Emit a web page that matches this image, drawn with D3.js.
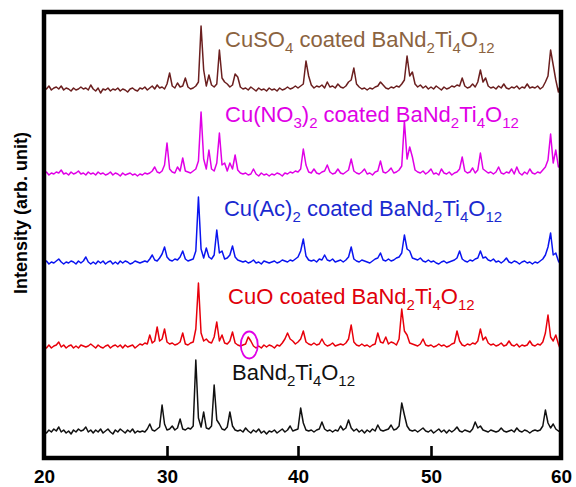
<!DOCTYPE html>
<html>
<head>
<meta charset="utf-8">
<script src="https://cdn.jsdelivr.net/npm/d3@7"></script>
<style>
  html, body { margin: 0; padding: 0; background: #fff; }
  svg { display: block; font-family: "Liberation Sans", Arial, sans-serif; }
</style>
</head>
<body>
<div class="chart"></div>
<script>
// 2θ sampling grid: 20° to 60°, every 0.2°
const twoTheta = d3.range(200, 601, 2).map(d => d / 10);
const xTicks = [20, 30, 40, 50, 60];

// intensities above each pattern's own baseline (arb. unit), one row = 2°
const bareBNT = [
  1, -1, 2, 0, 3, 1, 5, 0, 2, -1,
  1, -2, 2, 0, 3, 1, 2, 5, 0, 2,
  -1, 2, 0, 3, -1, 1, 3, 0, -2, 2,
  0, 3, 1, -1, 2, 0, 3, -1, 1, 0,
  1, 0, 3, 8, 2, 1, 3, 5, 27, 8,
  2, 3, 6, 2, 4, 13, 3, 2, 4, 3,
  6, 72, 14, 5, 20, 4, 3, 6, 47, 12,
  8, 3, 2, 5, 20, 6, 2, 1, 2, 0,
  4, 1, -1, 2, 0, 3, -1, 1, -2, 1,
  0, 2, -1, 1, 3, 0, 2, 6, 1, 2,
  3, 24, 9, 2, 1, 2, 0, 2, 3, 10,
  3, 1, 2, 0, 2, 1, 6, 2, 4, 12,
  4, 1, 3, 0, 2, -1, 2, 0, 3, 1,
  7, 2, 1, 2, 3, 7, 2, 3, 6, 29,
  17, 6, 2, 1, 2, 0, 2, 4, 1, 0,
  2, -1, 1, 3, 0, 2, -1, 2, 0, 2,
  5, 1, 0, 2, 1, 0, 3, 10, 4, 6,
  2, 1, 0, 2, 1, 0, 1, 4, 1, 0,
  1, 2, 0, 4, 1, 0, 2, 1, -1, 1,
  2, 1, 2, 6, 22, 9, 4, 8, 3, 1,
  0
];
const cuoCoated = [
  1, -1, 2, -1, 1, 2, 5, 0, 2, -1,
  1, 2, -1, 1, -1, 2, 1, 0, 1, 3,
  1, -1, 2, 0, -1, 1, 2, -1, 1, 2,
  0, 2, -1, 2, 0, 1, 2, -1, 1, 3,
  2, 4, 3, 12, 4, 6, 20, 6, 8, 18,
  5, 3, 4, 2, 3, 5, 14, 3, 2, 4,
  5, 18, 64, 14, 6, 8, 5, 4, 10, 25,
  6, 12, 4, 3, 6, 15, 4, 2, 1, 2,
  3, 10, 6, 1, -1, 1, -1, 2, 0, 2,
  1, -1, 2, 1, 4, 8, 14, 8, 6, 3,
  5, 8, 16, 5, 3, 2, 4, 2, 3, 8,
  3, 1, 2, 4, 1, 2, 3, 2, 4, 8,
  22, 5, 2, 1, 3, 1, 2, 0, 2, 3,
  14, 5, 4, 10, 3, 5, 4, 2, 8, 38,
  16, 12, 4, 3, 2, 1, 3, 8, 2, 1,
  2, 0, 1, 3, 1, 2, 0, 1, 3, 4,
  16, 6, 2, 1, 3, 2, 4, 3, 6, 18,
  7, 10, 4, 2, 3, 1, 2, 4, 1, 2,
  6, 2, 1, 3, 0, 2, 1, 2, 6, 2,
  1, 3, 2, 5, 14, 32, 10, 6, 12, 3,
  -4
];
const cuAcCoated = [
  0, 2, -1, 1, 0, 2, 4, 1, -1, 1,
  0, 2, 1, -1, 2, 0, 2, 6, 1, -1,
  1, -1, 2, 0, 2, -1, 1, 2, -1, 1,
  -1, 2, 0, 2, 1, -1, 0, 2, 1, 0,
  1, 2, 1, 4, 8, 3, 2, 5, 9, 16,
  6, 3, 2, 4, 3, 6, 12, 4, 2, 3,
  4, 12, 66, 14, 5, 15, 6, 4, 8, 33,
  10, 12, 4, 5, 8, 17, 6, 3, 2, 1,
  2, 0, 1, 3, 0, 1, -1, 2, 1, 0,
  1, 2, 0, 1, 3, 2, 1, 3, 2, 4,
  6, 12, 24, 7, 3, 2, 3, 1, 4, 3,
  8, 3, 2, 4, 1, 2, 3, 1, 3, 6,
  16, 4, 2, 1, 3, 2, 1, 0, 2, 4,
  5, 10, 3, 2, 4, 2, 3, 5, 6, 10,
  28, 14, 12, 5, 4, 3, 5, 2, 1, 3,
  1, 2, 0, -1, 1, 2, 0, 1, 2, 3,
  5, 12, 4, 2, 1, 3, 2, 4, 5, 12,
  5, 6, 3, 2, 4, 1, 2, 0, 2, 5,
  1, 0, 2, 1, -1, 1, 2, 0, 1, -1,
  1, 0, 2, 4, 8, 16, 30, 8, 10, 2,
  -2
];
const cuNO3Coated = [
  1, 3, 0, 2, 1, 3, 2, 5, 1, 2,
  0, 3, 1, 2, 4, 1, 2, 0, 3, 1,
  2, 0, 3, 1, 2, 0, 1, 3, 0, 2,
  1, -1, 2, 0, 1, 2, 0, 1, -1, 1,
  0, 2, 1, 2, 4, 8, 3, 2, 4, 10,
  32, 6, 3, 2, 8, 4, 17, 4, 3, 2,
  4, 6, 14, 63, 16, 6, 25, 6, 4, 12,
  42, 10, 12, 4, 12, 6, 20, 5, 2, 1,
  2, 0, 1, 6, 1, -1, 2, 0, 1, -1,
  1, 0, 2, 1, -1, 2, 1, 3, 2, 4,
  3, 6, 26, 10, 3, 2, 6, 2, 1, 3,
  4, 10, 3, 1, 2, 6, 2, 1, 3, 5,
  16, 4, 2, 1, 3, 6, 1, 2, 0, 3,
  4, 14, 3, 2, 4, 7, 2, 3, 5, 9,
  54, 16, 28, 18, 5, 3, 2, 4, 1, 3,
  6, 1, 2, 0, 6, 2, 1, 3, 0, 2,
  3, 6, 18, 4, 2, 3, 7, 2, 5, 22,
  6, 4, 2, 3, 1, 3, 8, 2, 1, 3,
  2, 6, 1, 8, 2, 0, 3, 1, 6, 2,
  1, 3, 2, 5, 8, 15, 41, 12, 25, 8,
  10
];
const cuSO4Coated = [
  3, 1, 4, 0, 2, 3, 1, 4, 0, 2,
  1, -1, 2, 0, 1, 3, 1, 2, 0, 5,
  1, -1, 2, -3, 1, 0, 2, -1, 1, 0,
  2, -1, 1, 0, -2, 1, 2, 0, -1, 2,
  1, 3, 0, 2, 4, 1, 5, 2, 3, 1,
  6, 17, 4, 2, 7, 3, 4, 12, 3, 1,
  2, 4, 8, 64, 20, 4, 15, 5, 3, 6,
  40, 12, 8, 6, 3, 5, 16, 13, 3, 1,
  2, 0, 3, 1, -1, 2, 0, 1, -1, 2,
  0, 1, -1, 2, 0, 1, 3, 1, 2, 4,
  2, 4, 6, 29, 14, 5, 2, 4, 3, 5,
  2, 8, 3, 4, 2, 6, 3, 2, 4, 8,
  10, 22, 6, 3, 1, 2, 0, 2, 1, 3,
  4, 8, 5, 2, 1, 3, 2, 4, 3, 6,
  10, 34, 14, 18, 6, 3, 5, 2, 4, 1,
  3, 1, 4, 2, 0, 3, 1, 2, 4, 3,
  5, 4, 12, 4, 2, 3, 6, 3, 8, 20,
  8, 12, 4, 2, 3, 1, 4, 2, 6, 2,
  1, 3, 2, 4, 1, 3, 2, 6, 2, 3,
  2, 4, 1, 3, 8, 14, 40, 25, 10, -2,
  8
];

const seriesNames = [
  "BaNd_2Ti_4O_12",
  "CuO coated BaNd_2Ti_4O_12",
  "Cu(Ac)_2 coated BaNd_2Ti_4O_12",
  "Cu(NO_3)_2 coated BaNd_2Ti_4O_12",
  "CuSO_4 coated BaNd_2Ti_4O_12"
];
const seriesValues = [bareBNT, cuoCoated, cuAcCoated, cuNO3Coated, cuSO4Coated];
// vertical stacking offset of each pattern (arb. unit)
const seriesOffsets = [0, 85, 169, 257, 342];
// the small CuO reflection circled on the CuO coated pattern
const markedPeak = { twoTheta: 36.28, intensity: 87 };

const lineColors = ["#111111", "#e8000b", "#0a14f0", "#e000e6", "#6b1f1f"];
const labelColors = ["#111111", "#e0000a", "#1a2ad0", "#e000e6", "#8b6340"];
// label anchors in data coordinates [2θ, intensity]
const labelAnchors = [[34.96, 52], [34.66, 128], [34.35, 216], [34.43, 310], [34.43, 385]];

const width = 576, height = 487;

const svg = d3.select(".chart").append("svg")
  .attr("width", width)
  .attr("height", height);

// the printed axis is slightly non-uniform, so map each decade separately
const x = d3.scaleLinear().domain([20, 30, 40, 50, 60]).range([44, 167, 298, 431, 561]);
const y = d3.scaleLinear().domain([-26, 420]).range([458, 12]);

// patterns
seriesValues.forEach((vals, k) => {
  const line = d3.line()
    .x((d, i) => x(twoTheta[i]))
    .y(d => y(d + seriesOffsets[k]));
  svg.append("path")
    .datum(vals)
    .attr("fill", "none")
    .attr("stroke", lineColors[k])
    .attr("stroke-width", 1.5)
    .attr("stroke-linejoin", "round")
    .attr("d", line);
});

// labels with subscripts
seriesNames.forEach((name, k) => {
  const t = svg.append("text")
    .attr("x", x(labelAnchors[k][0]))
    .attr("y", y(labelAnchors[k][1]))
    .attr("fill", labelColors[k])
    .style("font-size", "22px");
  const parts = name.split(/_(\d+)/);
  parts.forEach((p, i) => {
    if (p === "") return;
    const sub = i % 2 === 1;
    t.append("tspan")
      .attr("dy", sub ? 6 : (i > 0 ? -6 : 0))
      .style("font-size", sub ? "15px" : "22px")
      .text(p);
  });
});

// circled peak
svg.append("ellipse")
  .attr("cx", x(markedPeak.twoTheta))
  .attr("cy", y(markedPeak.intensity))
  .attr("rx", 8.5)
  .attr("ry", 13.5)
  .attr("fill", "none")
  .attr("stroke", "#e000e6")
  .attr("stroke-width", 1.8);

// x axis, ticks pointing inward
const xAxis = svg.append("g")
  .attr("transform", `translate(0,${y(-26)})`)
  .call(d3.axisBottom(x).tickValues(xTicks).tickSize(-12).tickPadding(12).tickFormat(d3.format("d")));
xAxis.select(".domain").remove();
xAxis.selectAll(".tick line").attr("stroke", "#000").attr("stroke-width", 2.6);
xAxis.selectAll(".tick text")
  .attr("fill", "#000")
  .style("font-family", "'Liberation Sans', Arial, sans-serif")
  .style("font-size", "19px")
  .style("font-weight", "bold");

// frame
svg.append("rect")
  .attr("x", x(20))
  .attr("y", y(420))
  .attr("width", x(60) - x(20))
  .attr("height", y(-26) - y(420))
  .attr("fill", "none")
  .attr("stroke", "#000")
  .attr("stroke-width", 4.5);

// y label
svg.append("text")
  .attr("transform", `translate(27,${(y(420) + y(-26)) / 2 - 22}) rotate(-90)`)
  .attr("text-anchor", "middle")
  .style("font-size", "18px")
  .style("font-weight", "bold")
  .text("Intensity (arb. unit)");
</script>
</body>
</html>
